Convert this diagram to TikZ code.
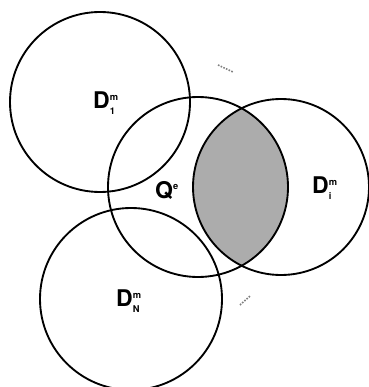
\documentclass[tikz,border=0pt]{standalone}
\usepackage{amsmath,amssymb}
\usepackage{fontspec}
\setsansfont{TeX Gyre Heros}
\usepackage{tikz}
\usepackage{xcolor}

\begin{document}
\begin{tikzpicture}[x=0.0264cm,y=-0.0264cm]
  \useasboundingbox (0,0) rectangle (369,387);
  \coordinate (D1) at (100,102); \coordinate (Q) at (198,187);
  \coordinate (Di) at (281,187); \coordinate (DN) at (131,299);
  \begin{scope}
    \clip (Q) circle (90);
    \fill[gray!65] (Di) circle (88);
  \end{scope}
  \draw[line width=1.4pt] (D1) circle (90); \draw[line width=1.4pt] (Q) circle (90);
  \draw[line width=1.4pt] (Di) circle (88); \draw[line width=1.4pt] (DN) circle (91);
  \node[font=\sffamily\bfseries\LARGE] (l1) at (106,103) {D$^{\text{\bfseries\sffamily\scriptsize m}}_{\text{\bfseries\sffamily\scriptsize 1}}$};
  \node[font=\sffamily\bfseries\LARGE] (lq) at (167,190) {Q$^{\text{\bfseries\sffamily\scriptsize e}}$};
  \node[font=\sffamily\bfseries\LARGE] (li) at (325,188) {D$^{\text{\bfseries\sffamily\scriptsize m}}_{\text{\bfseries\sffamily\scriptsize i}}$};
  \node[font=\sffamily\bfseries\LARGE] (lN) at (129,301) {D$^{\text{\bfseries\sffamily\scriptsize m}}_{\text{\bfseries\sffamily\scriptsize N}}$};
  \draw[gray,densely dotted,line width=1.2pt] (218,65) -- (233,72);
  \draw[gray,densely dotted,line width=1.2pt] (240,305) -- (250,296);
\end{tikzpicture}
\end{document}
